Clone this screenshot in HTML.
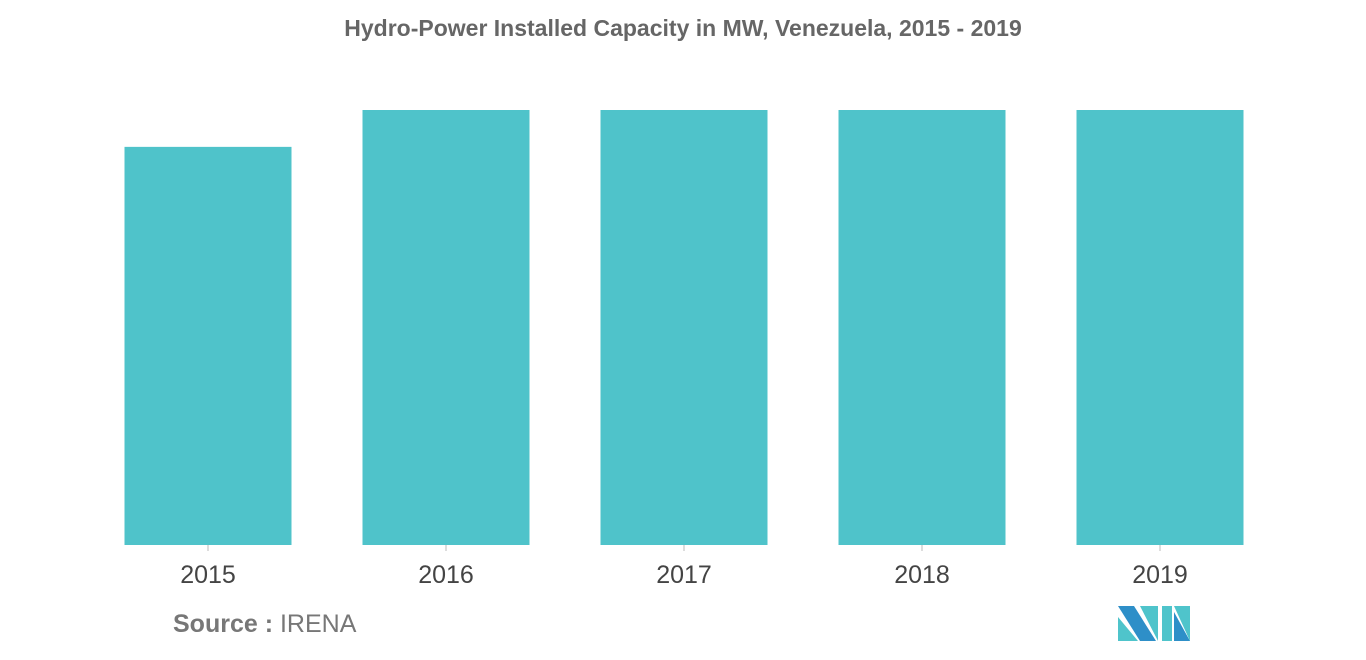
<!DOCTYPE html>
<html><head><meta charset="utf-8"><style>
body{margin:0;background:#fff;width:1366px;height:655px;overflow:hidden;font-family:"Liberation Sans",sans-serif}
</style></head><body>
<svg width="1366" height="655">
<text x="683" y="36" text-anchor="middle" font-size="23" fill="#666" font-weight="bold">Hydro-Power Installed Capacity in MW, Venezuela, 2015 - 2019</text>
<g id="bars"></g>
<g id="xaxis"></g>
<text x="173" y="632" font-size="25" fill="#777"><tspan font-weight="bold">Source :</tspan> IRENA</text>
<g>
<polygon points="1118,606 1134,606 1156,641 1140,641" fill="#2e8fc8"/>
<polygon points="1118,617 1138,641 1118,641" fill="#4fc4cb"/>
<polygon points="1140,606 1158,606 1158,641" fill="#4fc4cb"/>
<polygon points="1162,606 1172,606 1172,641 1162,641" fill="#4fc4cb"/>
<polygon points="1174,606 1190,606 1190,641" fill="#4fc4cb"/>
<polygon points="1174,612 1190,641 1174,641" fill="#2e8fc8"/>
</g>
</svg>
<script>
const categories=["2015","2016","2017","2018","2019"];
const values=[15120,16520,16520,16520,16520];
const baseY=545,plotH=435,yMax=16520,x0=89,step=238,barW=167;
const y=v=>baseY-v/yMax*plotH;
const xc=i=>x0+step*i+step/2;
const ns="http://www.w3.org/2000/svg";
const bars=document.getElementById('bars'),xa=document.getElementById('xaxis');
categories.forEach((c,i)=>{
 const r=document.createElementNS(ns,'rect');
 r.setAttribute('x',xc(i)-barW/2);r.setAttribute('y',y(values[i]));
 r.setAttribute('width',barW);r.setAttribute('height',baseY-y(values[i]));
 r.setAttribute('fill','#4fc3ca');
 
 
 bars.appendChild(r);
 const t=document.createElementNS(ns,'line');
 t.setAttribute('x1',xc(i));t.setAttribute('x2',xc(i));t.setAttribute('y1',baseY);t.setAttribute('y2',baseY+6);
 t.setAttribute('stroke','#bbb');
 
 
 xa.appendChild(t);
 const l=document.createElementNS(ns,'text');
 l.setAttribute('x',xc(i));l.setAttribute('y',583);l.setAttribute('text-anchor','middle');
 l.setAttribute('font-size','25');l.setAttribute('fill','#444');
 l.textContent=c;
 
 
 xa.appendChild(l);
});
</script>
</body></html>
